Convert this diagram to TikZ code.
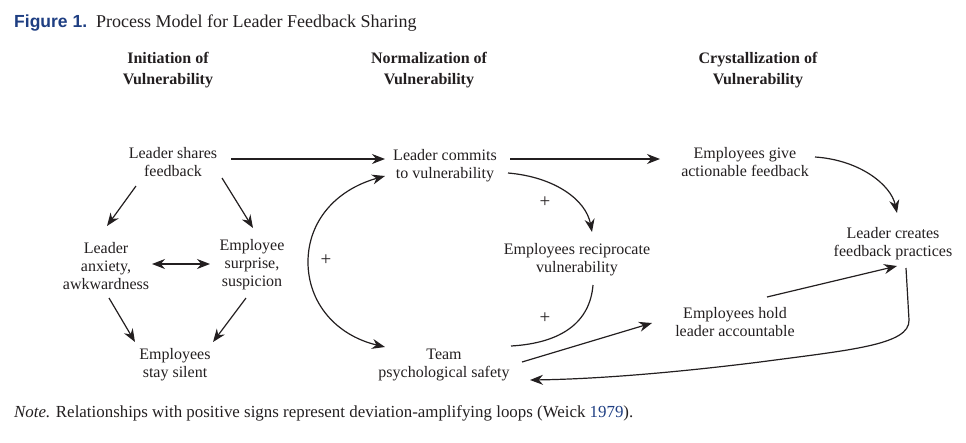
\documentclass[tikz,border=0pt]{standalone}
\usepackage{fontspec}
\setmainfont{Liberation Serif}
\newfontfamily\sansfig{Liberation Sans}
\usetikzlibrary{arrows.meta}
\definecolor{figblue}{RGB}{30,62,130}
\definecolor{ink}{RGB}{35,31,32}
\tikzset{
  box/.style={align=center,inner sep=0pt,text=ink,font=\fontsize{16}{18}\selectfont},
  head/.style={align=center,inner sep=0pt,text=ink,font=\fontsize{16}{21}\selectfont\bfseries},
  sign/.style={inner sep=0pt,text=ink,font=\fontsize{19}{18}\selectfont},
  conn/.style={draw=ink,line width=1.2pt},
  arr/.style={conn,-{Stealth[length=13pt,width=10pt]}},
  darr/.style={conn,{Stealth[length=13pt,width=10pt]}-{Stealth[length=13pt,width=10pt]}}
}
\begin{document}
\begin{tikzpicture}[x=1pt,y=-1pt]
\useasboundingbox (0,0) rectangle (966,442);
% title
\node[anchor=base west,inner sep=0pt,text=figblue,font=\sansfig\bfseries\fontsize{17.5}{20}\selectfont] (fig) at (14,27) {Figure 1.};
\node[anchor=base west,inner sep=0pt,text=ink,font=\fontsize{18}{20}\selectfont] (ttl) at (96,27) {Process Model for Leader Feedback Sharing};
% headings
\node[head] (h1) at (168,70) {Initiation of\\Vulnerability};
\node[head] (h2) at (429,70) {Normalization of\\Vulnerability};
\node[head] (h3) at (758,70) {Crystallization of\\Vulnerability};
% nodes
\node[box] (ls) at (173,162) {Leader shares\\feedback};
\node[box] (lc) at (445,166) {Leader commits\\to vulnerability};
\node[box] (eg) at (745,162) {Employees give\\actionable feedback};
\node[box] (la) at (106,266) {Leader\\anxiety,\\awkwardness};
\node[box] (es) at (252,265) {Employee\\surprise,\\suspicion};
\node[box] (ss) at (175,365) {Employees\\stay silent};
\node[box] (er) at (577,260) {Employees reciprocate\\vulnerability};
\node[box] (tp) at (444,365) {Team\\psychological safety};
\node[box] (lcf) at (893,244) {Leader creates\\feedback practices};
\node[box] (eh) at (735,322) {Employees hold\\leader accountable};
% signs
\node[sign] (p1) at (326,260) {+};
\node[sign] (p2) at (545,202) {+};
\node[sign] (p3) at (545,318) {+};
% connectors
\draw[arr] ([shift={(58,-3)}]ls.center) -- ([shift={(-60,-7)}]lc.center);
\draw[arr] ([shift={(65,-7)}]lc.center) -- ([shift={(-85,-3)}]eg.center);
\draw[arr] ([shift={(-37,24)}]ls.center) -- ([shift={(1,-40)}]la.center);
\draw[arr] ([shift={(49,16)}]ls.center) -- ([shift={(1,-37)}]es.center);
\draw[darr] ([shift={(46,-2)}]la.center) -- ([shift={(-42,-1)}]es.center);
\draw[arr] ([shift={(3,32)}]la.center) -- ([shift={(-40,-23)}]ss.center);
\draw[arr] ([shift={(-6,33)}]es.center) -- ([shift={(38,-23)}]ss.center);
\draw[darr] ([shift={(-60,10)}]lc.center) .. controls (335,190) and (308,222) .. (308,262) .. controls (308,302) and (335,335) .. ([shift={(-59,-18)}]tp.center);
\draw[arr] ([shift={(63,7)}]lc.center) .. controls (555,177) and (586,200) .. ([shift={(15,-28)}]er.center);
\draw[conn] ([shift={(16,25)}]er.center) .. controls (590,322) and (562,343) .. ([shift={(67,-19)}]tp.center);
\draw[arr] ([shift={(78,-3)}]tp.center) -- ([shift={(-83,1)}]eh.center);
\draw[arr] ([shift={(32,-25)}]eh.center) -- ([shift={(4,22)}]lcf.center);
\draw[arr] ([shift={(70,-5)}]eg.center) .. controls (860,160) and (891,185) .. ([shift={(4,-31)}]lcf.center);
\draw[arr] ([shift={(13,24)}]lcf.center) -- (909,320) .. controls (910,345) and (850,350) .. (760,362) .. controls (680,372) and (600,379) .. ([shift={(86,15)}]tp.center);
% note
\node[anchor=base west,inner sep=0pt,text=ink,font=\fontsize{16.9}{20}\selectfont] (note) at (14,417) {\textit{Note.} Relationships with positive signs represent deviation-amplifying loops (Weick \textcolor{figblue}{1979}).};
\end{tikzpicture}
\end{document}
